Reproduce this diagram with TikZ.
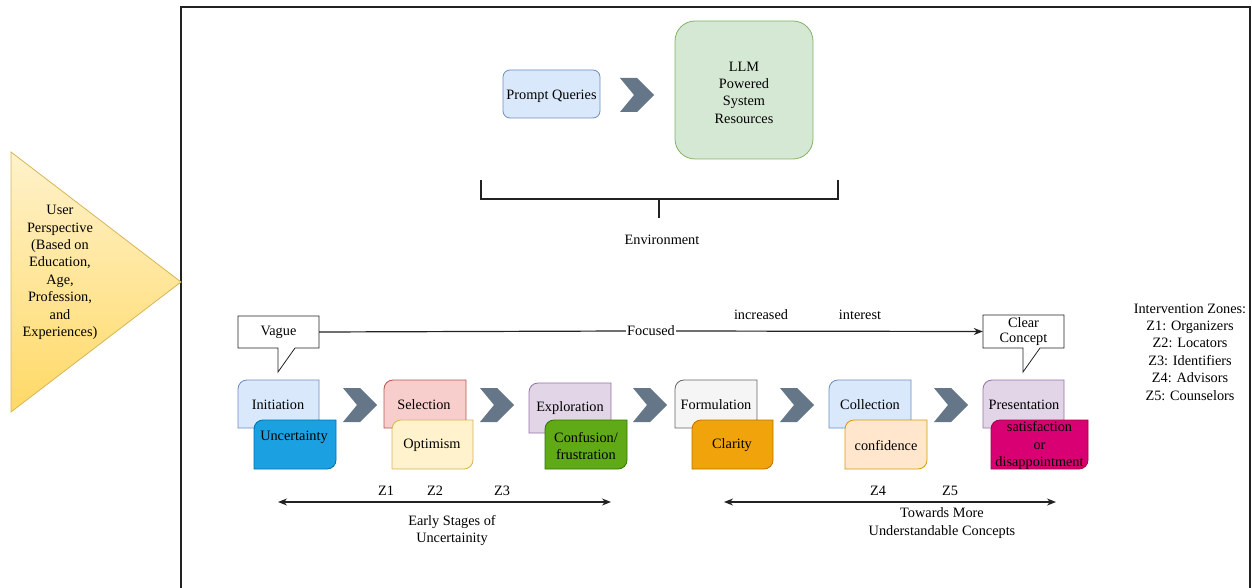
\documentclass[tikz,border=0pt]{standalone}
\usepackage{fontspec}
\setmainfont{Liberation Serif}
\usetikzlibrary{arrows.meta,calc}
\definecolor{chev}{HTML}{647687}
\definecolor{frame}{HTML}{222222}
\definecolor{bluef}{HTML}{DAE8FC}\definecolor{blued}{HTML}{6C8EBF}
\definecolor{greenf}{HTML}{D5E8D4}\definecolor{greend}{HTML}{82B366}
\definecolor{redf}{HTML}{F8CECC}\definecolor{redd}{HTML}{B85450}
\definecolor{yelf}{HTML}{FFF2CC}\definecolor{yeld}{HTML}{D6B656}
\definecolor{yelb}{HTML}{FFD966}
\definecolor{purf}{HTML}{E1D5E7}\definecolor{purd}{HTML}{9673A6}
\definecolor{grayf}{HTML}{F5F5F5}\definecolor{grayd}{HTML}{666666}
\definecolor{orgf}{HTML}{FFE6CC}\definecolor{orgd}{HTML}{D79B00}
\definecolor{ublue}{HTML}{1BA1E2}\definecolor{ublued}{HTML}{006EAF}
\definecolor{ugreen}{HTML}{60A917}\definecolor{ugreend}{HTML}{2D7600}
\definecolor{uorange}{HTML}{F0A30A}\definecolor{uoranged}{HTML}{BD7000}
\definecolor{umag}{HTML}{D80073}\definecolor{umagd}{HTML}{A50040}
\newcommand\cardbox[7]{%
 \draw[draw=#7,fill=#6,line width=0.8pt] (#2,#5) -- (#2,#3+9) .. controls (#2,#3+4) and (#2+4,#3) .. (#2+9,#3) -- (#4,#3) -- (#4,#5-9) .. controls (#4,#5-4) and (#4-4,#5) .. (#4-9,#5) -- cycle;
 \path (#2,#3) coordinate (#1-nw) (#4,#5) coordinate (#1-se);}
\newcommand\chevron[3]{%
 \fill[chev] (#2,#3) -- (#2+17,#3) -- (#2+34,#3+17) -- (#2+17,#3+34) -- (#2,#3+34) -- (#2+14,#3+17) -- cycle;
 \coordinate (#1) at (#2+17,#3+17);}
\tikzset{
 txt/.style={inner sep=1pt, align=center, text=black, yshift=-1.5pt, font=\fontsize{14.3}{17.4}\selectfont},
 line/.style={line width=1.2pt, draw=frame},
 tip/.style={-{Stealth[length=9pt,width=7pt]}},
}
\begin{document}
\begin{tikzpicture}[x=1pt,y=-1pt]
\useasboundingbox (0,0) rectangle (1252,588);
% frame
\coordinate (f1) at (181,588); \coordinate (f2) at (181,7);
\coordinate (f3) at (1250,7); \coordinate (f4) at (1250,588);
\draw[line] (f1) -- (f2) -- (f3) -- (f4);
% user perspective triangle
\shade[top color=yelf, bottom color=yelb] (11,152) -- (181,282) -- (11,412) -- cycle;
\draw[draw=yeld, line width=0.8pt] (11,152) -- (181,282) -- (11,412) -- cycle;
\node[txt] (user) at (60,271) {User\\Perspective\\(Based on\\Education,\\Age,\\Profession,\\and\\Experiences)};
% environment
\draw[draw=blued, fill=bluef, line width=0.8pt, rounded corners=7pt] (503,70) rectangle (600,118);
\node[txt] (prompt) at (551.5,94.5) {Prompt Queries};
\chevron{c0}{620}{78}
\draw[draw=greend, fill=greenf, line width=0.8pt, rounded corners=20pt] (675,21) rectangle (813,159);
\node[txt] (llm) at (744,91) {LLM\\Powered\\System\\Resources};
\coordinate (b1) at (481,180); \coordinate (b2) at (481,199);
\coordinate (b3) at (838,199); \coordinate (b4) at (838,180);
\coordinate (b5) at (659,199); \coordinate (b6) at (659,218);
\draw[line] (b1) -- (b2) -- (b3) -- (b4);
\draw[line] (b5) -- (b6);
\node[txt] (env) at (662,238) {Environment};
% callouts
\draw[draw=frame, fill=white, line width=0.8pt] (238,316) -- (319,316) -- (319,348) -- (295,348) -- (278,372) -- (278,348) -- (238,348) -- cycle;
\node[txt, minimum width=81pt, minimum height=32pt, inner sep=0pt, yshift=1.5pt] (vague) at (278.5,332) {Vague};
\draw[draw=frame, fill=white, line width=0.8pt] (983,315) -- (1064,315) -- (1064,348) -- (1040,348) -- (1023,372) -- (1023,348) -- (983,348) -- cycle;
\node[txt, minimum width=81pt, minimum height=33pt, inner sep=0pt, yshift=1.5pt, font=\fontsize{14.3}{15}\selectfont] (clear) at (1023.5,331.5) {Clear\\Concept};
\node[txt, yshift=1.5pt] (focused) at (651,331) {Focused};
\draw[line] (vague.east) -- (focused.west);
\draw[line, tip] (focused.east) -- (clear.west);
\node[txt] (incr) at (761,313) {increased};
\node[txt] (inter) at (860,313) {interest};
% stages
\cardbox{s1}{238}{380}{319}{428}{bluef}{blued}
\node[txt] (init) at (278,403) {Initiation};
\cardbox{e1}{254}{420}{336}{469}{ublue}{ublued}
\node[txt] (unc) at (294,436) {Uncertainty};
\chevron{c1}{343}{388}
\cardbox{s2}{384}{380}{466}{428}{redf}{redd}
\node[txt] (sel) at (424,403) {Selection};
\cardbox{e2}{392}{420}{473}{469}{yelf}{yeld}
\node[txt] (opt) at (432,444) {Optimism};
\chevron{c2}{480}{388}
\cardbox{s3}{529}{383}{611}{433}{purf}{purd}
\node[txt] (expl) at (570,407) {Exploration};
\cardbox{e3}{545}{420}{627}{469}{ugreen}{ugreend}
\node[txt] (conf) at (586,444.5) {Confusion/\\frustration};
\chevron{c3}{633}{388}
\cardbox{s4}{675}{380}{757}{428}{grayf}{grayd}
\node[txt] (form) at (716,403) {Formulation};
\cardbox{e4}{692}{420}{773}{469}{uorange}{uoranged}
\node[txt] (clar) at (732,444) {Clarity};
\chevron{c4}{780}{388}
\cardbox{s5}{829}{380}{911}{428}{bluef}{blued}
\node[txt] (coll) at (870,403) {Collection};
\cardbox{e5}{845}{420}{927}{469}{orgf}{orgd}
\node[txt] (confi) at (886,444) {confidence};
\chevron{c5}{934}{388}
\cardbox{s6}{983}{380}{1064}{428}{purf}{purd}
\node[txt] (pres) at (1024,403) {Presentation};
\cardbox{e6}{991}{420}{1088}{469}{umag}{umagd}
\node[txt] (sat) at (1039.5,444) {satisfaction\\or\\disappointment};
% bottom arrows
\coordinate (l1) at (278,502); \coordinate (l2) at (611,502);
\draw[line, {Stealth[length=9pt,width=7pt]}-{Stealth[length=9pt,width=7pt]}] (l1) -- (l2);
\node[txt] (z1) at (386,489) {Z1};
\node[txt] (z2) at (435,489) {Z2};
\node[txt] (z3) at (502,489) {Z3};
\node[txt] (early) at (452,529) {Early Stages of\\Uncertainity};
\coordinate (r1) at (724,502); \coordinate (r2) at (1056,502);
\draw[line, {Stealth[length=9pt,width=7pt]}-{Stealth[length=9pt,width=7pt]}] (r1) -- (r2);
\node[txt] (z4) at (878,489) {Z4};
\node[txt] (z5) at (950,489) {Z5};
\node[txt] (towards) at (942,521.5) {Towards More\\Understandable Concepts};
% intervention zones
\node[txt] (zones) at (1190,350.5) {Intervention Zones:\\Z1: Organizers\\Z2: Locators\\Z3: Identifiers\\Z4: Advisors\\Z5: Counselors};
\end{tikzpicture}
\end{document}
